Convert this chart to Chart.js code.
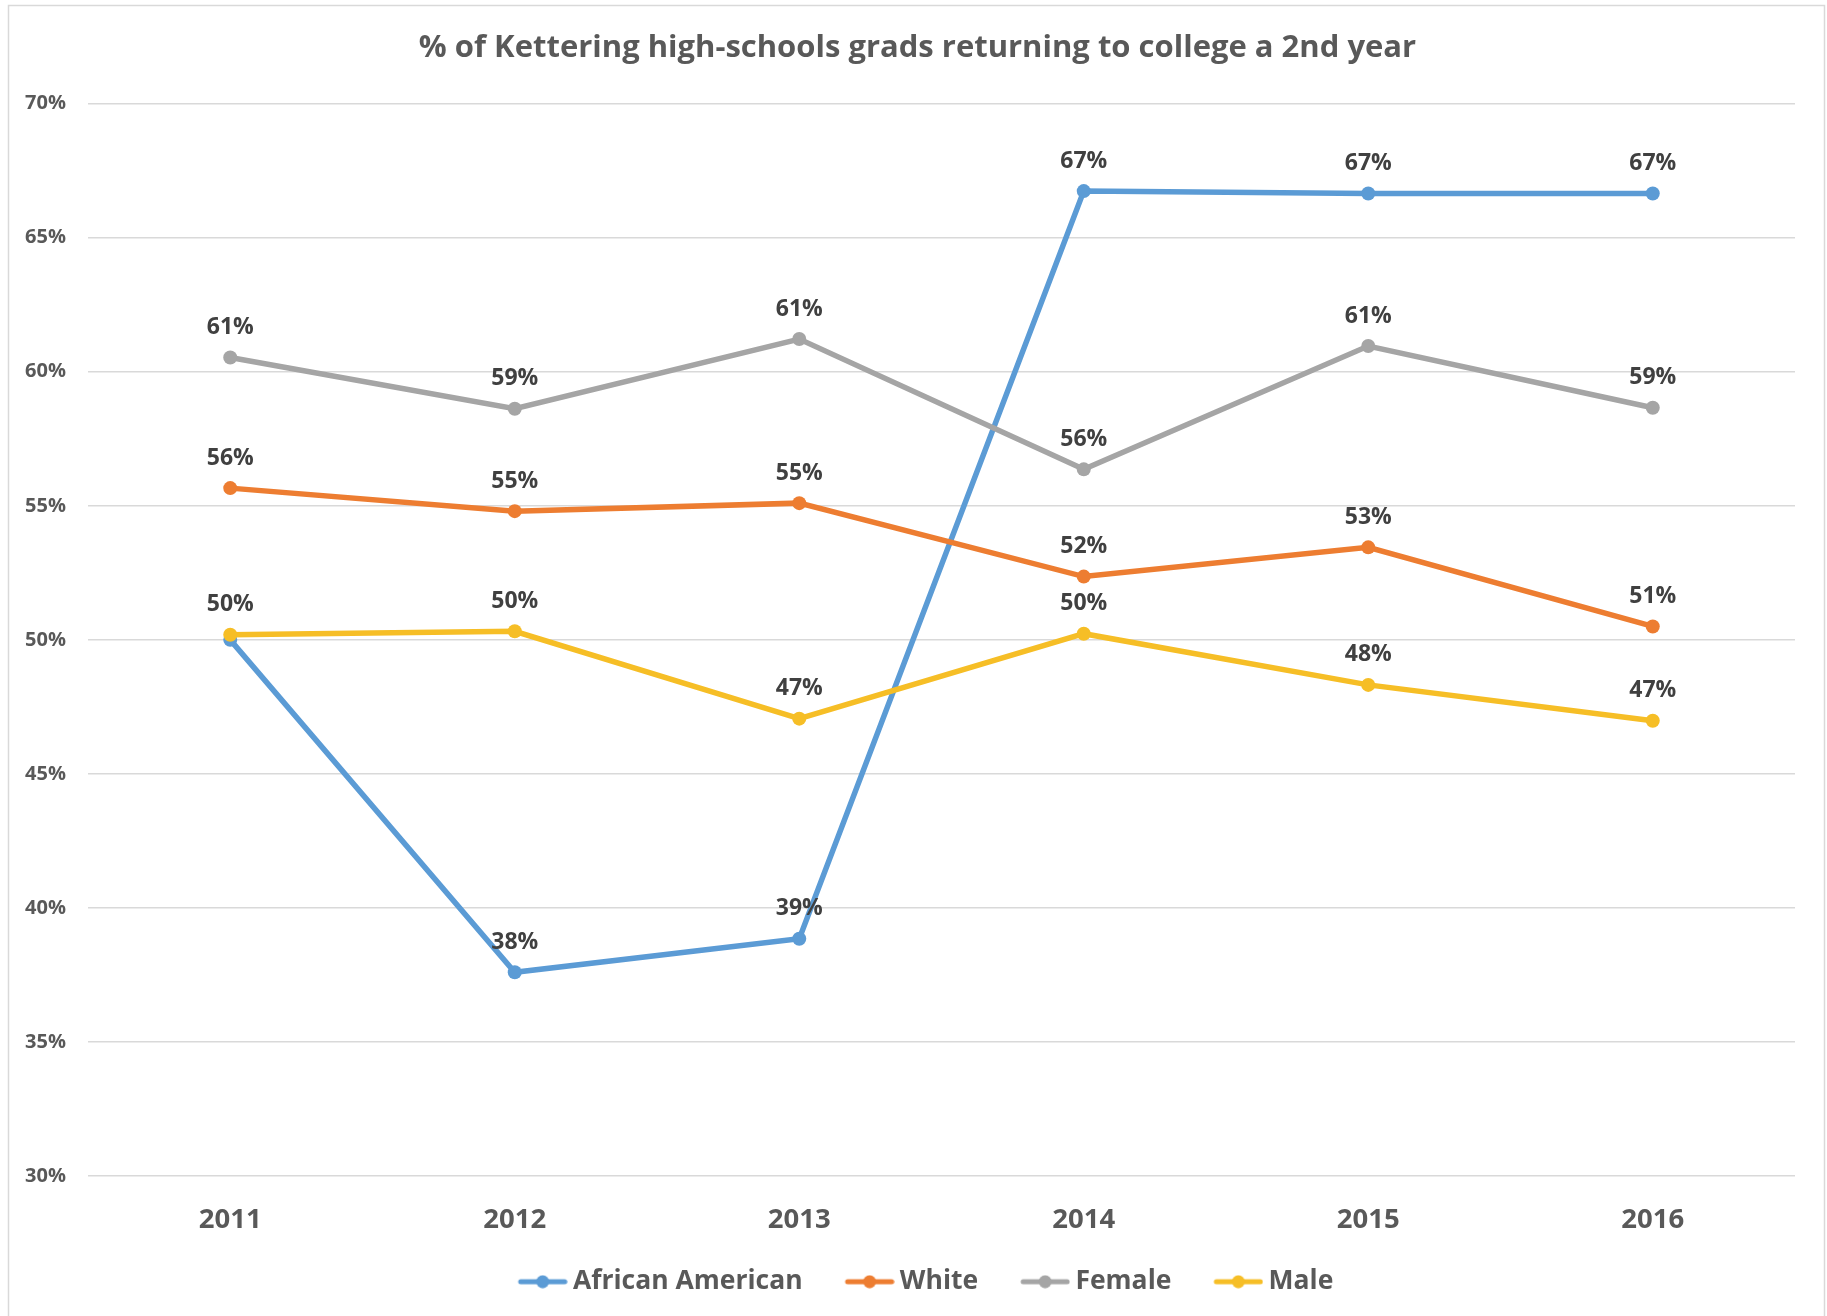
<!DOCTYPE html>
<html>
<head>
<meta charset="utf-8">
<script src="https://cdn.jsdelivr.net/npm/chart.js@4"></script>
<style>
  html, body { margin: 0; padding: 0; background: #fff; }
  #wrap { width: 1827px; height: 1316px; }
</style>
</head>
<body>
<div id="wrap"><canvas id="myChart" width="1827" height="1316"></canvas></div>
<script>
const years = ["2011", "2012", "2013", "2014", "2015", "2016"];
const africanAmerican = [50.0, 37.6, 38.85, 66.74, 66.65, 66.65];
const white = [55.66, 54.8, 55.1, 52.36, 53.45, 50.5];
const female = [60.53, 58.62, 61.22, 56.36, 60.96, 58.66];
const male = [50.19, 50.32, 47.06, 50.23, 48.32, 46.98];
const seriesNames = ["African American", "White", "Female", "Male"];
const seriesColors = ["#5B9BD5", "#ED7D31", "#A5A5A5", "#F6BE26"];

const textGray = "#595959";
const font = "'Open Sans', Lato, sans-serif";

// little line+dot icon for the legend, like excel's
// (left part of the canvas is left empty to widen the gap between items)
function legendIcon(color) {
    const c = document.createElement("canvas");
    c.width = 74;
    c.height = 14;
    const ctx = c.getContext("2d");
    ctx.strokeStyle = color;
    ctx.lineWidth = 5;
    ctx.lineCap = "round";
    ctx.beginPath();
    ctx.moveTo(27, 7);
    ctx.lineTo(71, 7);
    ctx.stroke();
    ctx.fillStyle = color;
    ctx.beginPath();
    ctx.arc(49, 7, 6.5, 0, Math.PI * 2);
    ctx.fill();
    return c;
}

// outer chart border
const borderBox = {
    id: "borderBox",
    beforeDraw(chart) {
        const ctx = chart.ctx;
        ctx.save();
        ctx.fillStyle = "#fff";
        ctx.fillRect(0, 0, chart.width, chart.height);
        ctx.strokeStyle = "#D9D9D9";
        ctx.lineWidth = 1.5;
        ctx.strokeRect(8.5, 5.5, 1816, 1400);
        ctx.restore();
    }
};

// value labels above each point (skip one if it would sit on top of another)
const pointLabels = {
    id: "pointLabels",
    afterDatasetsDraw(chart) {
        const ctx = chart.ctx;
        const placed = [];
        ctx.save();
        ctx.font = "bold 23px " + font;
        ctx.fillStyle = "#404040";
        ctx.textAlign = "center";
        ctx.textBaseline = "middle";
        for (let i = chart.data.datasets.length - 1; i >= 0; i--) {
            const ds = chart.data.datasets[i];
            const meta = chart.getDatasetMeta(i);
            meta.data.forEach((pt, j) => {
                const x = pt.x, y = pt.y - 30;
                if (placed.some(p => Math.abs(p.x - x) < 20 && Math.abs(p.y - y) < 14)) return;
                placed.push({ x, y });
                ctx.fillText(Math.round(ds.data[j]) + "%", x, y);
            });
        }
        ctx.restore();
    }
};

const allSeries = [africanAmerican, white, female, male];
const datasets = allSeries.map((values, i) => ({
    label: seriesNames[i],
    data: values,
    borderColor: seriesColors[i],
    backgroundColor: seriesColors[i],
    borderWidth: 5.5,
    pointRadius: 7,
    pointBorderWidth: 0,
    pointBackgroundColor: seriesColors[i],
    tension: 0,
    order: 4 - i
}));

new Chart("myChart", {
    type: "line",
    data: {
        labels: years,
        datasets: datasets
    },
    options: {
        responsive: false,
        animation: false,
        events: [],
        layout: {
            padding: { left: 20, right: 12, top: 0, bottom: 11 }
        },
        plugins: {
            title: {
                display: true,
                text: "% of Kettering high-schools grads returning to college a 2nd year",
                color: textGray,
                font: { family: font, size: 31, weight: "bold" },
                padding: { top: 30, bottom: 36.5 }
            },
            legend: {
                position: "bottom",
                labels: {
                    usePointStyle: true,
                    pointStyleWidth: 58,
                    padding: 26,
                    color: textGray,
                    font: { family: font, size: 26.5, weight: "bold" },
                    generateLabels(chart) {
                        return chart.data.datasets.map((ds, i) => ({
                            text: ds.label,
                            pointStyle: legendIcon(ds.borderColor),
                            fillStyle: ds.borderColor,
                            strokeStyle: ds.borderColor,
                            lineWidth: 0,
                            fontColor: textGray,
                            datasetIndex: i,
                            hidden: false
                        }));
                    }
                }
            },
            tooltip: { enabled: false }
        },
        scales: {
            x: {
                offset: true,
                afterFit(scale) { scale.height = 66.5; },
                grid: { display: false, drawTicks: false, tickLength: 0 },
                border: { display: false },
                ticks: {
                    color: textGray,
                    padding: 27.5,
                    font: { family: font, size: 27.5, weight: "bold" }
                }
            },
            y: {
                min: 30,
                max: 70,
                afterFit(scale) { scale.width = 68; },
                border: { display: false },
                grid: { color: "#D9D9D9", lineWidth: 1.5, drawTicks: false },
                ticks: {
                    stepSize: 5,
                    padding: 22,
                    color: textGray,
                    font: { family: font, size: 20, weight: "bold" },
                    callback: (v) => v + "%"
                }
            },
            // empty right-hand spacer so the plot ends where excel's does
            yRight: {
                position: "right",
                display: true,
                afterFit(scale) { scale.width = 20; },
                grid: { display: false, drawTicks: false },
                border: { display: false },
                ticks: { display: false }
            }
        }
    },
    plugins: [borderBox, pointLabels]
});
</script>
</body>
</html>
